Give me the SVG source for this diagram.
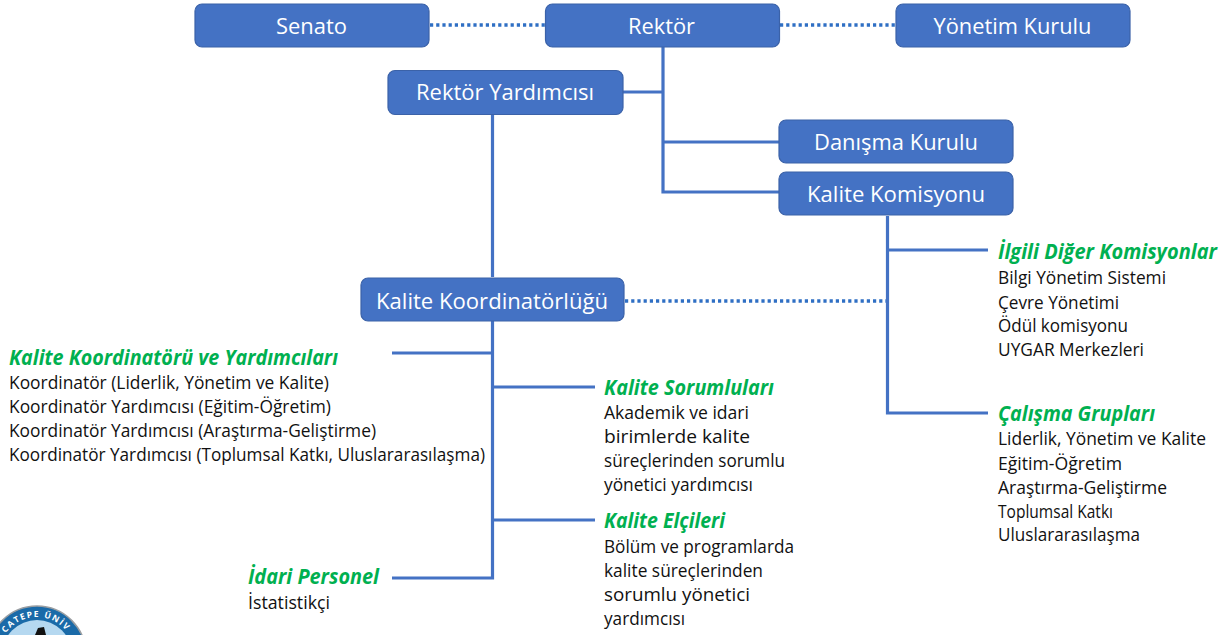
<svg xmlns="http://www.w3.org/2000/svg" width="1232" height="635" viewBox="0 0 1232 635">
<style>
text{font-family:"Open Sans","Noto Sans","Liberation Sans",sans-serif}
.box{fill:#4472c4;stroke:#3b62a8;stroke-width:1.2}
.bt{fill:#fff;font-size:22.5px;text-anchor:middle}
.h{fill:#00b050;font-size:21px;font-weight:700;font-style:italic}
.b{fill:#111;font-size:17.5px}
.c{fill:none;stroke:#4472c4;stroke-width:3.2}
.d{fill:none;stroke:#2f6fc4;stroke-width:3.5;stroke-dasharray:3.2 3}
</style>
<defs><path id="arc" d="M4.700 635A38 38 0 0 1 69.300 635"/></defs>
<g id="connectors">
<path class="d" d="M430 25H545M780 25H895M625 301H887"/>
<path class="c" d="M663 47V192H779M623 92H663M663 142H779M492.500 114V277M492.500 321V578H392M392 353H492M492 387H595M492 520H595M887.500 216V413H988M887 250H988"/>
</g>
<g id="senato"><rect class="box" x="195" y="4" width="234" height="43" rx="7"/><text class="bt" x="311.500" y="34" textLength="71" lengthAdjust="spacingAndGlyphs">Senato</text></g>
<g id="rektor"><rect class="box" x="545.500" y="4" width="234" height="43" rx="7"/><text class="bt" x="661.500" y="34" textLength="67" lengthAdjust="spacingAndGlyphs">Rektör</text></g>
<g id="yonetim"><rect class="box" x="896" y="4" width="234" height="43" rx="7"/><text class="bt" x="1012.500" y="34" textLength="158" lengthAdjust="spacingAndGlyphs">Yönetim Kurulu</text></g>
<g id="rektor-yrd"><rect class="box" x="388" y="70.500" width="235" height="44" rx="7"/><text class="bt" x="505" y="100" textLength="178" lengthAdjust="spacingAndGlyphs">Rektör Yardımcısı</text></g>
<g id="danisma"><rect class="box" x="779" y="120" width="234" height="43" rx="7"/><text class="bt" x="896" y="150" textLength="164" lengthAdjust="spacingAndGlyphs">Danışma Kurulu</text></g>
<g id="komisyon"><rect class="box" x="779" y="172" width="234" height="43" rx="7"/><text class="bt" x="896" y="202" textLength="178" lengthAdjust="spacingAndGlyphs">Kalite Komisyonu</text></g>
<g id="koordinatorluk"><rect class="box" x="361" y="278" width="263" height="43" rx="7"/><text class="bt" x="492" y="309" textLength="232" lengthAdjust="spacingAndGlyphs">Kalite Koordinatörlüğü</text></g>
<g id="kk-yardimcilari">
<text class="h" x="9" y="365" textLength="329" lengthAdjust="spacingAndGlyphs">Kalite Koordinatörü ve Yardımcıları</text>
<text class="b" x="9" y="389" textLength="320" lengthAdjust="spacingAndGlyphs">Koordinatör (Liderlik, Yönetim ve Kalite)</text>
<text class="b" x="9" y="413" textLength="322" lengthAdjust="spacingAndGlyphs">Koordinatör Yardımcısı (Eğitim-Öğretim)</text>
<text class="b" x="9" y="437" textLength="367" lengthAdjust="spacingAndGlyphs">Koordinatör Yardımcısı (Araştırma-Geliştirme)</text>
<text class="b" x="9" y="461" textLength="476" lengthAdjust="spacingAndGlyphs">Koordinatör Yardımcısı (Toplumsal Katkı, Uluslararasılaşma)</text>
</g>
<g id="sorumlular">
<text class="h" x="604" y="395" textLength="170" lengthAdjust="spacingAndGlyphs">Kalite Sorumluları</text>
<text class="b" x="604" y="419" textLength="145" lengthAdjust="spacingAndGlyphs">Akademik ve idari</text>
<text class="b" x="604" y="443" textLength="146" lengthAdjust="spacingAndGlyphs">birimlerde kalite</text>
<text class="b" x="604" y="467" textLength="181" lengthAdjust="spacingAndGlyphs">süreçlerinden sorumlu</text>
<text class="b" x="604" y="491" textLength="149" lengthAdjust="spacingAndGlyphs">yönetici yardımcısı</text>
</g>
<g id="elciler">
<text class="h" x="604" y="528" textLength="121" lengthAdjust="spacingAndGlyphs">Kalite Elçileri</text>
<text class="b" x="604" y="553" textLength="190" lengthAdjust="spacingAndGlyphs">Bölüm ve programlarda</text>
<text class="b" x="604" y="577" textLength="159" lengthAdjust="spacingAndGlyphs">kalite süreçlerinden</text>
<text class="b" x="604" y="601" textLength="146" lengthAdjust="spacingAndGlyphs">sorumlu yönetici</text>
<text class="b" x="604" y="625" textLength="81" lengthAdjust="spacingAndGlyphs">yardımcısı</text>
</g>
<g id="idari">
<text class="h" x="248" y="584" textLength="131" lengthAdjust="spacingAndGlyphs">İdari Personel</text>
<text class="b" x="248" y="609" textLength="82" lengthAdjust="spacingAndGlyphs">İstatistikçi</text>
</g>
<g id="diger">
<text class="h" x="998" y="259" textLength="219" lengthAdjust="spacingAndGlyphs">İlgili Diğer Komisyonlar</text>
<text class="b" x="998" y="284" textLength="168" lengthAdjust="spacingAndGlyphs">Bilgi Yönetim Sistemi</text>
<text class="b" x="998" y="309" textLength="121" lengthAdjust="spacingAndGlyphs">Çevre Yönetimi</text>
<text class="b" x="998" y="332" textLength="130" lengthAdjust="spacingAndGlyphs">Ödül komisyonu</text>
<text class="b" x="998" y="356" textLength="146" lengthAdjust="spacingAndGlyphs">UYGAR Merkezleri</text>
</g>
<g id="gruplar">
<text class="h" x="998" y="421" textLength="157" lengthAdjust="spacingAndGlyphs">Çalışma Grupları</text>
<text class="b" x="998" y="445" textLength="208" lengthAdjust="spacingAndGlyphs">Liderlik, Yönetim ve Kalite</text>
<text class="b" x="998" y="470" textLength="124" lengthAdjust="spacingAndGlyphs">Eğitim-Öğretim</text>
<text class="b" x="998" y="494" textLength="169" lengthAdjust="spacingAndGlyphs">Araştırma-Geliştirme</text>
<text class="b" x="998" y="518" textLength="115" lengthAdjust="spacingAndGlyphs">Toplumsal Katkı</text>
<text class="b" x="998" y="541" textLength="142" lengthAdjust="spacingAndGlyphs">Uluslararasılaşma</text>
</g>
<g id="logo">
<circle cx="37" cy="655" r="49" fill="#1a6aa8" stroke="#9a9ea2" stroke-width="1.5"/>
<circle cx="37" cy="655" r="35" fill="#b5d8f0"/>
<path d="M35 635L38 628L44 627L46 635Z" fill="#111"/>
<text font-size="8.5" font-weight="700" fill="#fff" letter-spacing="1.4"><textPath href="#arc" startOffset="2">CATEPE ÜNİV</textPath></text>
</g>
</svg>
